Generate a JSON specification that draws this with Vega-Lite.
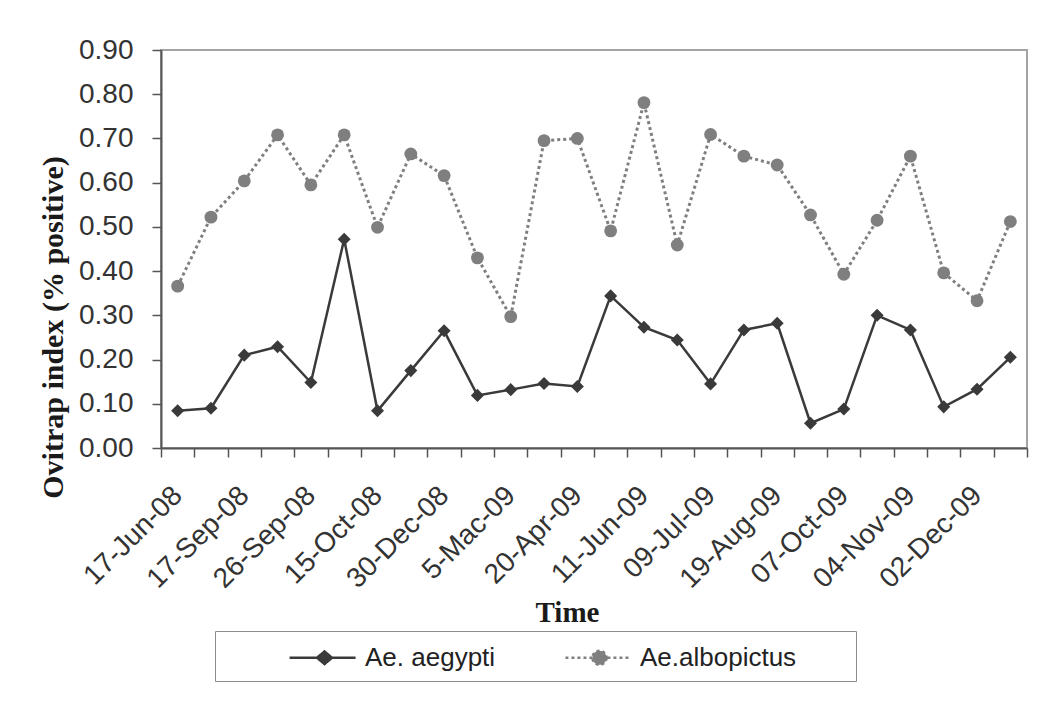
{
  "$schema": "https://vega.github.io/schema/vega-lite/v6.json",
  "width": 866,
  "height": 398,
  "autosize": {"type": "none"},
  "padding": {"left": 161, "top": 50, "right": 24, "bottom": 261},
  "background": "white",
  "config": {
    "view": {"stroke": "#a3a3a3", "strokeWidth": 2},
    "font": "Liberation Sans"
  },
  "data": {
    "values": [
      {"n": 1, "species": "Ae. aegypti", "value": 0.084},
      {"n": 2, "species": "Ae. aegypti", "value": 0.090},
      {"n": 3, "species": "Ae. aegypti", "value": 0.210},
      {"n": 4, "species": "Ae. aegypti", "value": 0.229},
      {"n": 5, "species": "Ae. aegypti", "value": 0.148},
      {"n": 6, "species": "Ae. aegypti", "value": 0.472},
      {"n": 7, "species": "Ae. aegypti", "value": 0.084},
      {"n": 8, "species": "Ae. aegypti", "value": 0.175},
      {"n": 9, "species": "Ae. aegypti", "value": 0.265},
      {"n": 10, "species": "Ae. aegypti", "value": 0.119},
      {"n": 11, "species": "Ae. aegypti", "value": 0.132},
      {"n": 12, "species": "Ae. aegypti", "value": 0.146},
      {"n": 13, "species": "Ae. aegypti", "value": 0.139},
      {"n": 14, "species": "Ae. aegypti", "value": 0.344},
      {"n": 15, "species": "Ae. aegypti", "value": 0.273},
      {"n": 16, "species": "Ae. aegypti", "value": 0.244},
      {"n": 17, "species": "Ae. aegypti", "value": 0.145},
      {"n": 18, "species": "Ae. aegypti", "value": 0.267},
      {"n": 19, "species": "Ae. aegypti", "value": 0.282},
      {"n": 20, "species": "Ae. aegypti", "value": 0.056},
      {"n": 21, "species": "Ae. aegypti", "value": 0.088},
      {"n": 22, "species": "Ae. aegypti", "value": 0.300},
      {"n": 23, "species": "Ae. aegypti", "value": 0.267},
      {"n": 24, "species": "Ae. aegypti", "value": 0.093},
      {"n": 25, "species": "Ae. aegypti", "value": 0.133},
      {"n": 26, "species": "Ae. aegypti", "value": 0.205},
      {"n": 1, "species": "Ae.albopictus", "value": 0.366},
      {"n": 2, "species": "Ae.albopictus", "value": 0.522},
      {"n": 3, "species": "Ae.albopictus", "value": 0.604},
      {"n": 4, "species": "Ae.albopictus", "value": 0.708},
      {"n": 5, "species": "Ae.albopictus", "value": 0.595},
      {"n": 6, "species": "Ae.albopictus", "value": 0.708},
      {"n": 7, "species": "Ae.albopictus", "value": 0.499},
      {"n": 8, "species": "Ae.albopictus", "value": 0.665},
      {"n": 9, "species": "Ae.albopictus", "value": 0.616},
      {"n": 10, "species": "Ae.albopictus", "value": 0.430},
      {"n": 11, "species": "Ae.albopictus", "value": 0.297},
      {"n": 12, "species": "Ae.albopictus", "value": 0.695},
      {"n": 13, "species": "Ae.albopictus", "value": 0.700},
      {"n": 14, "species": "Ae.albopictus", "value": 0.491},
      {"n": 15, "species": "Ae.albopictus", "value": 0.781},
      {"n": 16, "species": "Ae.albopictus", "value": 0.459},
      {"n": 17, "species": "Ae.albopictus", "value": 0.709},
      {"n": 18, "species": "Ae.albopictus", "value": 0.660},
      {"n": 19, "species": "Ae.albopictus", "value": 0.640},
      {"n": 20, "species": "Ae.albopictus", "value": 0.527},
      {"n": 21, "species": "Ae.albopictus", "value": 0.393},
      {"n": 22, "species": "Ae.albopictus", "value": 0.515},
      {"n": 23, "species": "Ae.albopictus", "value": 0.660},
      {"n": 24, "species": "Ae.albopictus", "value": 0.396},
      {"n": 25, "species": "Ae.albopictus", "value": 0.333},
      {"n": 26, "species": "Ae.albopictus", "value": 0.512}
    ]
  },
  "encoding": {
    "x": {
      "field": "n",
      "type": "quantitative",
      "scale": {"domain": [0.5, 26.5], "nice": false, "zero": false},
      "axis": {
        "title": "Time",
        "titleFont": "Liberation Serif",
        "titleFontWeight": "bold",
        "titleFontSize": 29,
        "titleColor": "#1a1a1a",
        "titleX": 406,
        "titleY": 173,
        "titleAlign": "center",
        "titleBaseline": "alphabetic",
        "values": [0.5, 1, 1.5, 2, 2.5, 3, 3.5, 4, 4.5, 5, 5.5, 6, 6.5, 7, 7.5, 8, 8.5, 9, 9.5, 10, 10.5, 11, 11.5, 12, 12.5, 13, 13.5, 14, 14.5, 15, 15.5, 16, 16.5, 17, 17.5, 18, 18.5, 19, 19.5, 20, 20.5, 21, 21.5, 22, 22.5, 23, 23.5, 24, 24.5, 25, 25.5, 26, 26.5],
        "labelExpr": "datum.value % 2 === 1 ? ['17-Jun-08','17-Sep-08','26-Sep-08','15-Oct-08','30-Dec-08','5-Mac-09','20-Apr-09','11-Jun-09','09-Jul-09','19-Aug-09','07-Oct-09','04-Nov-09','02-Dec-09'][(datum.value - 1) / 2] : ''",
        "labelAngle": -45,
        "labelAlign": "right",
        "labelBaseline": "middle",
        "labelFont": "Liberation Sans",
        "labelFontSize": 28,
        "labelColor": "#333333",
        "labelPadding": 34,
        "labelOverlap": false,
        "labelFlush": false,
        "labelBound": false,
        "tickSize": 9,
        "tickColor": "#555555",
        "tickWidth": 1.5,
        "tickOpacity": {"condition": {"test": "datum.value % 1 === 0", "value": 0}, "value": 1},
        "domainColor": "#555555",
        "domainWidth": 2,
        "grid": false
      }
    },
    "y": {
      "field": "value",
      "type": "quantitative",
      "scale": {"domain": [0, 0.9], "nice": false},
      "axis": {
        "title": "Ovitrap index (% positive)",
        "titleFont": "Liberation Serif",
        "titleFontWeight": "bold",
        "titleFontSize": 30,
        "titleColor": "#1a1a1a",
        "titleAngle": 270,
        "titleX": -99,
        "titleY": 277,
        "titleAlign": "center",
        "titleBaseline": "alphabetic",
        "values": [0, 0.1, 0.2, 0.3, 0.4, 0.5, 0.6, 0.7, 0.8, 0.9],
        "format": ".2f",
        "labelFont": "Liberation Sans",
        "labelFontSize": 28,
        "labelColor": "#333333",
        "labelPadding": 19,
        "labelOverlap": false,
        "labelFlush": false,
        "tickSize": 9,
        "tickColor": "#555555",
        "tickWidth": 1.5,
        "domainColor": "#555555",
        "domainWidth": 2,
        "grid": false
      }
    },
    "color": {
      "field": "species",
      "type": "nominal",
      "scale": {"domain": ["Ae. aegypti", "Ae.albopictus"], "range": ["#3a3a3a", "#7f7f7f"]},
      "legend": {
        "title": null,
        "orient": "none",
        "legendX": 54,
        "legendY": 581,
        "direction": "horizontal",
        "padding": 10,
        "strokeColor": "#8c8c8c",
        "symbolSize": 900,
        "symbolOffset": 83,
        "labelFont": "Liberation Sans",
        "labelFontSize": 26,
        "labelColor": "#222222",
        "labelOffset": 24,
        "columnPadding": 4,
        "encode": {
          "symbols": {
            "update": {
              "shape": {"signal": "datum.value === 'Ae. aegypti' ? 'M-2.33,0L2.07,0M0,-0.42L0.5,0L0,0.42L-0.5,0Z' : 'M-2.27,0L1.93,0M0.47,0A0.47,0.47 0 1 1 -0.47,0A0.47,0.47 0 1 1 0.47,0ZM16.1,0'"},
              "strokeDash": {"signal": "datum.value === 'Ae. aegypti' ? [1, 0] : [3, 3]"},
              "fill": {"signal": "datum.value === 'Ae. aegypti' ? '#3a3a3a' : '#7f7f7f'"},
              "stroke": {"signal": "datum.value === 'Ae. aegypti' ? '#3a3a3a' : '#7f7f7f'"},
              "strokeWidth": {"value": 2.5},
              "opacity": {"value": 1},
              "fillOpacity": {"value": 1},
              "strokeOpacity": {"value": 1},
              "size": {"value": 900}
            }
          }
        }
      }
    }
  },
  "layer": [
    {
      "transform": [{"filter": "datum.species === 'Ae. aegypti'"}],
      "mark": {"type": "line", "strokeWidth": 2.5}
    },
    {
      "transform": [{"filter": "datum.species === 'Ae.albopictus'"}],
      "mark": {"type": "line", "strokeWidth": 3, "strokeDash": [3, 3]}
    },
    {
      "transform": [{"filter": "datum.species === 'Ae. aegypti'"}],
      "mark": {"type": "point", "shape": "diamond", "size": 170, "filled": true, "opacity": 1}
    },
    {
      "transform": [{"filter": "datum.species === 'Ae.albopictus'"}],
      "mark": {"type": "point", "shape": "circle", "size": 165, "filled": true, "opacity": 1}
    }
  ]
}
